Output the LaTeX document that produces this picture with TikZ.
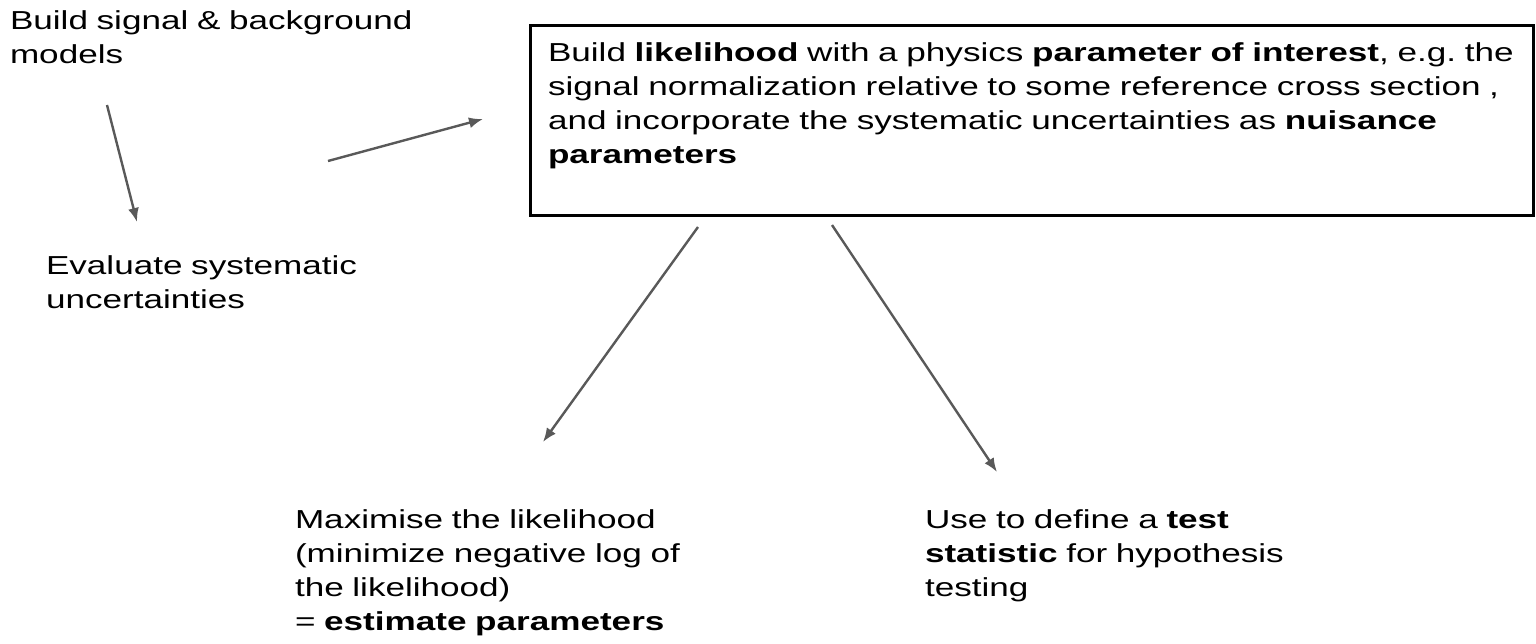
\documentclass[tikz,border=0pt]{standalone}
\usepackage{fontspec}
\setmainfont{Liberation Sans}[FakeStretch=1.35]
\usetikzlibrary{arrows.meta}
\definecolor{arrowgray}{HTML}{595959}

\begin{document}
\frenchspacing
\begin{tikzpicture}[x=1pt, y=-1pt, >={Latex[length=14pt,width=11pt]},
    every node/.style={font=\fontsize{26}{34}\selectfont, align=left,
      inner sep=0pt, outer sep=0pt, anchor=base west},
    flow/.style={->, draw=arrowgray, line width=2.4pt}]
    \useasboundingbox (0,0) rectangle (1536,643);
    % inputs
    \node[text width=440] (sig) at (10,29)
      {Build signal \& background\\models};
    \node[text width=320] (eval) at (46,274)
      {Evaluate systematic\\uncertainties};
    % likelihood box
    \node[draw, line width=3pt, anchor=north west, text width=967,
      inner xsep=18pt, inner ysep=18.5pt, text height=17.5pt, text depth=135.5pt]
      (lik) at (530,25)
      {Build \textbf{likelihood} with a physics \textbf{parameter of interest}, e.g. the\\
       signal normalization relative to some reference cross section ,\\
       and incorporate the systematic uncertainties as \textbf{nuisance}\\
       \textbf{parameters}};
    % outputs
    \node[text width=440] (maxlik) at (295,528)
      {Maximise the likelihood\\(minimize negative log of\\the likelihood)\\
       = \textbf{estimate parameters}};
    \node[text width=400] (teststat) at (925,528)
      {Use to define a \textbf{test}\\\textbf{statistic} for hypothesis\\testing};
    % arrows
    \draw[flow] ([shift={(97,76)}]sig.base west) -- ([shift={(91,-52)}]eval.base west);
    \draw[flow] ([shift={(282,-113)}]eval.base west) -- ([shift={(-47,-1)}]lik.west);
    \draw[flow] ([shift={(168,12)}]lik.south west) -- ([shift={(248,-86)}]maxlik.base west);
    \draw[flow] ([shift={(302,10)}]lik.south west) -- ([shift={(72,-56)}]teststat.base west);
  \end{tikzpicture}
\end{document}
